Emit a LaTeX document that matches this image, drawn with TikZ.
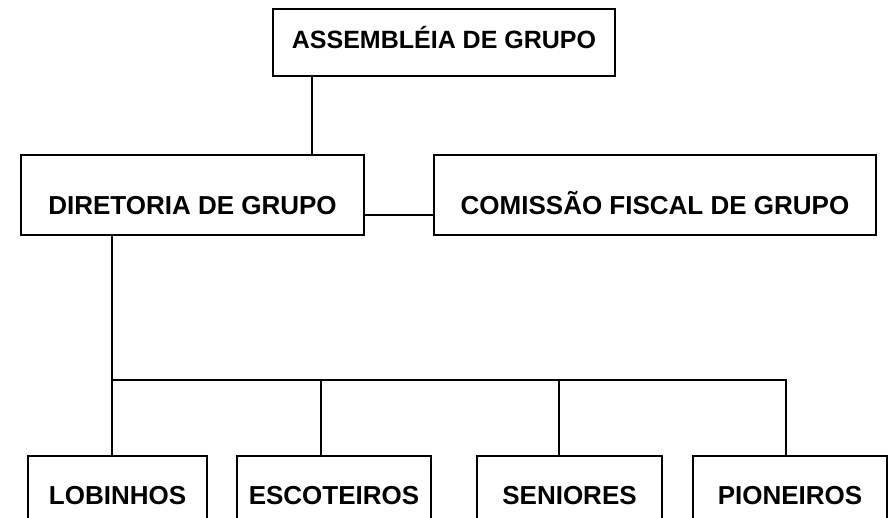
\documentclass[tikz,border=0pt]{standalone}
\usepackage{fontspec}
\setmainfont{Liberation Sans}
\usetikzlibrary{positioning}
\newcommand{\orgfont}{\bfseries\fontsize{26}{30}\selectfont}
\tikzset{
  orgbox/.style={draw,line width=2pt,inner sep=0pt,font=\orgfont},
  headbox/.style={orgbox,text height=40pt,text depth=27pt,font=\bfseries\fontsize{25}{30}\selectfont},
  upperbox/.style={orgbox,text height=60pt,text depth=20pt},
  lowerbox/.style={orgbox,anchor=north,text height=48pt,text depth=30pt},
  link/.style={line width=2pt},
}
\begin{document}
\begin{tikzpicture}[x=1pt,y=-1pt]
  \useasboundingbox (0,0) rectangle (888,518);
  \clip (0,0) rectangle (888,518);

  % --- assembly and board ---
  \node[headbox, minimum width=342pt] (assemb) at (444,42.5) {ASSEMBLÉIA DE GRUPO};
  \node[upperbox, minimum width=343pt] (diret) at (192.5,195) {DIRETORIA DE GRUPO};
  \node[upperbox, minimum width=442pt, right=68pt of diret] (comis) {COMISSÃO FISCAL DE GRUPO};

  \coordinate (trunkA) at (312,0);
  \draw[link] (assemb.south -| trunkA) -- (diret.north -| trunkA);
  \draw[link] (diret.base east) -- (comis.base west);

  % --- branches ---
  \node[lowerbox, minimum width=179pt] (lobin) at (117.5,455) {LOBINHOS};
  \node[lowerbox, minimum width=194pt] (escot) at (334,455) {ESCOTEIROS};
  \node[lowerbox, minimum width=185pt] (senio) at (569.5,455) {SENIORES};
  \node[lowerbox, minimum width=194pt] (pione) at (790,455) {PIONEIROS};

  \coordinate (busL) at (112,380);
  \coordinate (busE) at (321,380);
  \coordinate (busS) at (559,380);
  \coordinate (busR) at (786,380);

  \draw[link] (diret.south -| busL) -- (busL |- lobin.north);
  \draw[link] (busL) -- (busR) -- (busR |- pione.north);
  \draw[link] (busE) -- (busE |- escot.north);
  \draw[link] (busS) -- (busS |- senio.north);
\end{tikzpicture}
\end{document}
